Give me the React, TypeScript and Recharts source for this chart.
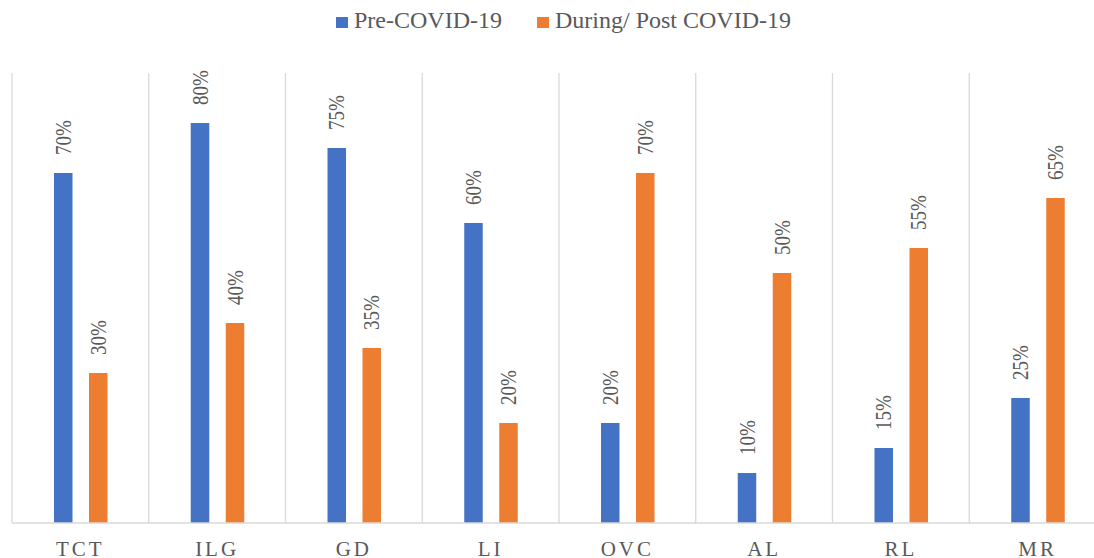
import { BarChart, Bar, XAxis, YAxis, CartesianGrid, Legend, LabelList } from 'recharts'

const categories = ['TCT', 'ILG', 'GD', 'LI', 'OVC', 'AL', 'RL', 'MR']
const preCovid = [70, 80, 75, 60, 20, 10, 15, 25]
const duringPost = [30, 40, 35, 20, 70, 50, 55, 65]
const seriesNames = ['Pre-COVID-19', 'During/ Post COVID-19']
const seriesColors = ['#4472C4', '#ED7D31']

const data = categories.map((c, i) => ({ name: c, pre: preCovid[i], post: duringPost[i] }))

const FONT = '"Liberation Serif", "Times New Roman", serif'

// value labels sit above each bar, turned to read bottom-up
function RotatedLabel(props: any) {
  const { x, y, width, value } = props
  const cx = Number(x) + Number(width) / 2
  const ty = Number(y) - 18
  return (
    <text
      x={0}
      y={0}
      transform={`translate(${cx}, ${ty}) scale(1.2, 1) rotate(-90)`}
      textAnchor="start"
      dominantBaseline="central"
      fill="#595959"
      style={{ fontFamily: FONT, fontSize: 19 }}
    >
      {`${value}%`}
    </text>
  )
}

function LegendContent() {
  return (
    <div style={{ display: 'flex', paddingLeft: 336, fontFamily: FONT, fontSize: 24, lineHeight: '24px', color: '#595959' }}>
      {seriesNames.map((n, i) => (
        <div key={n} style={{ display: 'flex', alignItems: 'flex-start', width: i === 0 ? 201 : 'auto' }}>
          <span style={{ width: 12, height: 11, marginTop: 9, marginRight: 6, background: seriesColors[i], display: 'inline-block' }} />
          <span>{n}</span>
        </div>
      ))}
    </div>
  )
}

export default function App() {
  return (
    <div style={{ position: 'fixed', top: 0, left: 0, width: 1094, height: 558, overflow: 'hidden', background: '#fff' }}>
      <BarChart
        width={1106}
        height={558}
        data={data}
        margin={{ top: 73, right: 0, bottom: 5, left: 12 }}
        barSize={18.5}
        barGap={16.5}
      >
        <CartesianGrid
          horizontal={false}
          stroke="#d9d9d9"
          strokeWidth={1.3}
          verticalCoordinatesGenerator={({ offset }: any) =>
            categories.map((_, i) => offset.left + (i * offset.width) / categories.length)
          }
        />
        <XAxis
          dataKey="name"
          height={30}
          axisLine={{ stroke: '#d9d9d9', strokeWidth: 1.3 }}
          tickLine={false}
          tickMargin={12}
          tick={{ fill: '#595959', fontSize: 21, fontFamily: FONT, letterSpacing: 3 }}
          interval={0}
        />
        <YAxis hide domain={[0, 90]} />
        <Legend
          layout="horizontal"
          verticalAlign="middle"
          align="center"
          wrapperStyle={{ top: 8, left: 0, width: 1094 }}
          content={<LegendContent />}
        />
        <Bar dataKey="pre" name={seriesNames[0]} fill={seriesColors[0]} isAnimationActive={false}>
          <LabelList dataKey="pre" content={<RotatedLabel />} />
        </Bar>
        <Bar dataKey="post" name={seriesNames[1]} fill={seriesColors[1]} isAnimationActive={false}>
          <LabelList dataKey="post" content={<RotatedLabel />} />
        </Bar>
      </BarChart>
    </div>
  )
}
